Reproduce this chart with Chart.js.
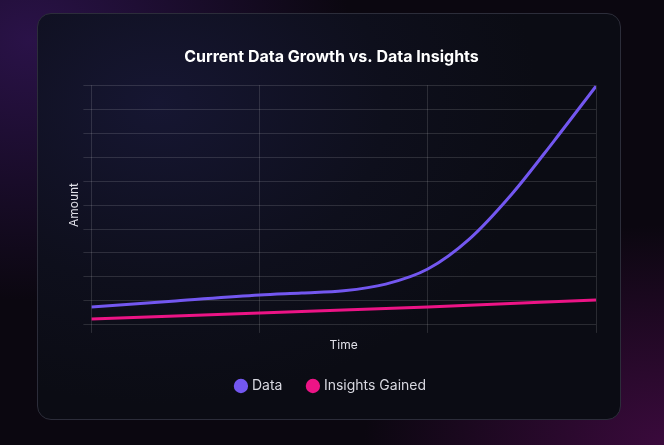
<!DOCTYPE html>
<html><head><meta charset="utf-8">
<script src="https://cdn.jsdelivr.net/npm/chart.js@4/dist/chart.umd.min.js"></script>
<style>
html,body{margin:0;width:664px;height:445px;overflow:hidden;font-family:Inter,sans-serif;
background:radial-gradient(ellipse 320px 260px at 30px 40px,#2a1248 0%,rgba(20,8,35,0) 100%),radial-gradient(ellipse 300px 220px at 664px 445px,#3a0a3c 0%,rgba(20,5,25,0) 100%),#0b0710;}
#card{position:absolute;left:37px;top:13px;width:582px;height:405px;border:1px solid #2c2d3a;border-radius:14px;
background:radial-gradient(ellipse 380px 300px at 120px 90px,#161632 0%,#0e0f1c 60%,#0b0c14 100%);overflow:hidden}
#wrap{position:absolute;left:0;top:0;width:582px;height:405px}
</style></head><body>
<div id="card"><div id="wrap"><canvas id="c"></canvas></div></div>
<script>
const xValues=[0,2,4,5,6,7,8,9,10,11,12];
const dataSeries=[7.5,10,12.5,13.3,14.2,17,23.3,36,54.6,76.7,99.6];
const insightsX=[0,4,8,12];
const insightsSeries=[2.5,5,7.5,10.4];
const title='Current Data Growth vs. Data Insights';
Chart.defaults.font.family='Inter, sans-serif';
new Chart(document.getElementById('c'),{
type:'line',
data:{datasets:[
{label:'Data',data:xValues.map((x,i)=>({x,y:dataSeries[i]})),borderColor:'#7357f0',backgroundColor:'#7357f0',borderWidth:3,pointRadius:0,cubicInterpolationMode:'monotone'},
{label:'Insights Gained',data:insightsX.map((x,i)=>({x,y:insightsSeries[i]})),borderColor:'#ec1486',backgroundColor:'#ec1486',borderWidth:3,pointRadius:0,cubicInterpolationMode:'monotone'}
]},
options:{responsive:true,maintainAspectRatio:false,animation:false,
layout:{padding:{left:29,right:24,top:24,bottom:16}},
plugins:{title:{display:true,text:title,color:'#ffffff',font:{size:16,weight:'bold'},padding:{top:10,bottom:18}},
legend:{position:'bottom',labels:{usePointStyle:true,pointStyle:'circle',boxWidth:8,boxHeight:8,color:'#d8d8e0',font:{size:14},padding:26.5}}},
scales:{
x:{type:'linear',min:0,max:12,ticks:{stepSize:4,callback:()=>'',padding:0,font:{size:1}},grid:{color:'rgba(255,255,255,0.13)',tickLength:8},border:{display:false},
title:{display:true,text:'Time',color:'#e0e0e8',font:{size:12},padding:{top:4,bottom:0}}},
y:{min:0,max:100,ticks:{stepSize:10,callback:()=>'',padding:0,font:{size:1}},grid:{color:'rgba(255,255,255,0.13)',tickLength:8},border:{display:false},
title:{display:true,text:'Amount',color:'#e0e0e8',font:{size:12},padding:{top:0,bottom:2}}}
}}});
</script></body></html>
